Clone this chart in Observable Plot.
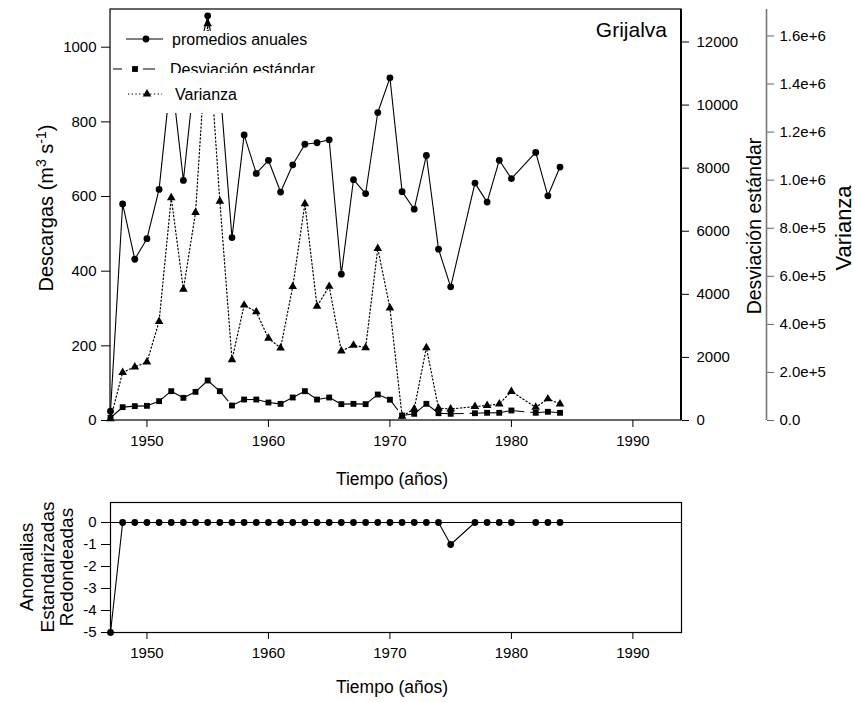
<!DOCTYPE html>
<html>
<head>
<meta charset="utf-8">
<script src="https://cdn.jsdelivr.net/npm/d3@7"></script>
<script src="https://cdn.jsdelivr.net/npm/@observablehq/plot@0.6"></script>
<style>
  body { margin: 0; background: #fff; }
  #chart { width: 855px; font-family: "Liberation Sans", Arial, sans-serif; }
  #chart svg { display: block; }
</style>
</head>
<body>
<div id="chart"></div>
<script>
// Río Grijalva: annual mean discharge, standard deviation and variance, 1947–1984
const years = [1947, 1948, 1949, 1950, 1951, 1952, 1953, 1954, 1955, 1956,
               1957, 1958, 1959, 1960, 1961, 1962, 1963, 1964, 1965, 1966,
               1967, 1968, 1969, 1970, 1971, 1972, 1973, 1974, 1975,
               1977, 1978, 1979, 1980, 1982, 1983, 1984];
const promedios = [25, 580, 432, 487, 619, 930, 643, 950, 1084, 900,
                   490, 765, 662, 697, 612, 685, 740, 744, 752, 392,
                   645, 608, 825, 918, 613, 566, 710, 459, 358,
                   636, 585, 697, 648, 718, 602, 679];
const desviacion = [85, 423, 455, 465, 613, 930, 718, 908, 1268, 930,
                    475, 665, 665, 570, 528, 729, 930, 665, 729, 518,
                    528, 518, 824, 660, 158, 212, 529, 231, 212,
                    231, 244, 244, 317, 244, 276, 244];
const varianza = [7000, 200000, 223000, 243000, 412000, 927000, 546000, 865000, 1651000, 912000,
                  253000, 480000, 452000, 342000, 302000, 557000, 902000, 475000, 558000, 289000,
                  313000, 303000, 716000, 468000, 18000, 48000, 303000, 51000, 48000,
                  58000, 62000, 69000, 121000, 55000, 90000, 69000];
// rounded standardized anomalies of the annual means
const anomalias = [-5, 0, 0, 0, 0, 0, 0, 0, 0, 0,
                   0, 0, 0, 0, 0, 0, 0, 0, 0, 0,
                   0, 0, 0, 0, 0, 0, 0, 0, -1,
                   0, 0, 0, 0, 0, 0, 0];

const xTicks = [1950, 1960, 1970, 1980, 1990];
const yTicks = [0, 200, 400, 600, 800, 1000];
const sdTicks = [0, 2000, 4000, 6000, 8000, 10000, 12000];
const varTicks = [0, 2e5, 4e5, 6e5, 8e5, 1.0e6, 1.2e6, 1.4e6, 1.6e6];
const anomTicks = [0, -1, -2, -3, -4, -5];

const xDomain = [1947, 1994];
const yDomain = [0, 1101];
const sdDomain = [0, 13030];
const varDomain = [0, 1.71e6];
const anomDomain = [-5, 0.91];

const legendLabels = ["promedios anuales", "Desviación estándar", "Varianza"];
const titulo = "Grijalva";
const xLabel = "Tiempo (años)";

// the two secondary axes share the primary y scale through linear rescaling
const sdToY = d3.scaleLinear(sdDomain, yDomain);
const varToY = d3.scaleLinear(varDomain, yDomain);

const rows = years.map((year, i) => ({
  year,
  prom: promedios[i],
  sd: sdToY(desviacion[i]),
  vr: varToY(varianza[i])
}));
// each std-dev segment gets its own dash pattern start
const sdSegs = d3.pairs(rows).map(([a, b]) => ({x1: a.year, y1: a.sd, x2: b.year, y2: b.sd}));
const anomRows = years.map((year, i) => ({year, a: anomalias[i]}));

const font = '"Liberation Sans", Arial, sans-serif';
const baseStyle = {fontFamily: font, fontSize: "15px", color: "#000", background: "#fff", overflow: "visible"};
const R_CIRCLE = 3.4, R_SQUARE = 3.3, R_TRI = 3.2;

const fmtVar = v => {
  const x = Math.round(varToY.invert(v) / 1e4) * 1e4;
  return x === 0 ? "0.0" : d3.format(".1e")(x);
};

const topPlot = Plot.plot({
  width: 855, height: 495,
  marginTop: 9, marginBottom: 75, marginLeft: 110, marginRight: 174,
  x: {domain: xDomain},
  y: {domain: yDomain},
  style: baseStyle,
  marks: [
    Plot.line(rows, {x: "year", y: "vr", stroke: "#000", strokeWidth: 1.2, strokeDasharray: "1.3,2.4"}),
    Plot.link(sdSegs, {x1: "x1", y1: "y1", x2: "x2", y2: "y2", stroke: "#000", strokeWidth: 1.1, strokeDasharray: "13,6"}),
    Plot.line(rows, {x: "year", y: "prom", stroke: "#000", strokeWidth: 1.1}),
    Plot.dot(rows, {x: "year", y: "vr", symbol: "triangle", r: R_TRI, fill: "#000"}),
    Plot.dot(rows, {x: "year", y: "sd", symbol: "square", r: R_SQUARE, fill: "#000"}),
    Plot.dot(rows, {x: "year", y: "prom", symbol: "circle", r: R_CIRCLE, fill: "#000"}),
    Plot.axisX({ticks: xTicks, tickSize: 7, tickPadding: 8, label: null, tickFormat: d => String(d)}),
    Plot.axisY({ticks: yTicks, tickSize: 9, tickPadding: 5, label: null, tickFormat: d => String(d)}),
    Plot.axisY({ticks: sdTicks.map(sdToY), anchor: "right", tickSize: 7, tickPadding: 8, label: null,
                tickFormat: v => String(Math.round(sdToY.invert(v)))}),
    Plot.axisY({ticks: varTicks.map(varToY), anchor: "right", dx: 85, tickSize: 7, tickPadding: 6, label: null,
                stroke: "#666", tickFormat: fmtVar}),
    Plot.ruleX([xDomain[1]], {dx: 85, stroke: "#777", strokeWidth: 1.6})
  ]
});

const svgTop = d3.select(topPlot);

// legend rows, each drawn over its own white box
const legendRows = [
  {label: legendLabels[0], y: 39, top: 31, x0: 126, x1: 163, sx: 146, tx: 172, sym: d3.symbolCircle, r: R_CIRCLE, dash: null},
  {label: legendLabels[1], y: 69, top: 52, x0: 113, x1: 155, sx: 135, tx: 170, sym: d3.symbolSquare, r: R_SQUARE, dash: "9,21,12"},
  {label: legendLabels[2], y: 94, top: 73, x0: 128, x1: 162, sx: 147, tx: 175, sym: d3.symbolTriangle, r: R_TRI, dash: "1.3,2.4"}
];
const lg = svgTop.append("g").attr("class", "legend").attr("text-anchor", "start");
legendRows.forEach(d => {
  lg.append("rect")
    .attr("x", 111).attr("y", d.top).attr("width", 212).attr("height", 40)
    .style("fill", "#ffffff").style("stroke", "none");
  const ln = lg.append("line")
    .attr("x1", d.x0).attr("x2", d.x1).attr("y1", d.y).attr("y2", d.y)
    .style("stroke", "#000").style("stroke-width", "1.1px").style("fill", "none");
  if (d.dash) ln.style("stroke-dasharray", d.dash);
  lg.append("path")
    .attr("d", d3.symbol(d.sym, Math.PI * d.r * d.r)())
    .attr("transform", `translate(${d.sx},${d.y})`)
    .style("fill", "#000").style("stroke", "none");
  lg.append("text")
    .attr("x", d.tx).attr("y", d.y).attr("dy", "0.36em")
    .attr("text-anchor", "start")
    .style("font-size", "16px").style("fill", "#000").text(d.label);
});

// plot frame, with a heavier right side that carries the std-dev axis
const fr = svgTop.append("g");
fr.append("rect").attr("x", 110).attr("y", 9).attr("width", 571).attr("height", 411)
  .style("fill", "none").style("stroke", "#000").style("stroke-width", "1.2px");
fr.append("line").attr("x1", 681).attr("x2", 681).attr("y1", 9).attr("y2", 420)
  .style("stroke", "#000").style("stroke-width", "2px");

svgTop.append("text").attr("x", 667).attr("y", 37).attr("text-anchor", "end")
  .style("font-size", "21px").style("fill", "#000").text(titulo);

const yl = svgTop.append("text").attr("transform", "translate(53,208) rotate(-90)")
  .attr("text-anchor", "middle").style("font-size", "20px").style("fill", "#000");
yl.append("tspan").text("Descargas (m");
yl.append("tspan").attr("dy", -7).style("font-size", "14px").text("3");
yl.append("tspan").attr("dy", 7).text(" s");
yl.append("tspan").attr("dy", -7).style("font-size", "14px").text("-1");
yl.append("tspan").attr("dy", 7).text(")");

svgTop.append("text").attr("transform", "translate(761,226) rotate(-90)")
  .attr("text-anchor", "middle").style("font-size", "19.5px").style("fill", "#000").text("Desviación estándar");
svgTop.append("text").attr("transform", "translate(851,228) rotate(-90)")
  .attr("text-anchor", "middle").style("font-size", "22px").style("fill", "#000").text("Varianza");
svgTop.append("text").attr("x", 392).attr("y", 485).attr("text-anchor", "middle")
  .style("font-size", "17.5px").style("fill", "#000").text(xLabel);

const bottomPlot = Plot.plot({
  width: 855, height: 207,
  marginTop: 7, marginBottom: 70, marginLeft: 110, marginRight: 174,
  x: {domain: xDomain},
  y: {domain: anomDomain},
  style: baseStyle,
  marks: [
    Plot.ruleY([0], {stroke: "#000", strokeWidth: 1.1}),
    Plot.line(anomRows, {x: "year", y: "a", stroke: "#000", strokeWidth: 1.1}),
    Plot.dot(anomRows, {x: "year", y: "a", r: R_CIRCLE, fill: "#000"}),
    Plot.frame({stroke: "#000", strokeWidth: 1.2}),
    Plot.axisX({ticks: xTicks, tickSize: 7, tickPadding: 8, label: null, tickFormat: d => String(d)}),
    Plot.axisY({ticks: anomTicks, tickSize: 9, tickPadding: 5, label: null, tickFormat: d => String(d)})
  ]
});

const svgBot = d3.select(bottomPlot);
[["Anomalias", 33], ["Estandarizadas", 53.5], ["Redondeadas", 73]].forEach(([t, x]) => {
  svgBot.append("text").attr("transform", `translate(${x},72) rotate(-90)`)
    .attr("text-anchor", "middle").style("font-size", "19px").style("fill", "#000").text(t);
});
svgBot.append("text").attr("x", 392).attr("y", 198).attr("text-anchor", "middle")
  .style("font-size", "17.5px").style("fill", "#000").text(xLabel);

const chart = document.getElementById("chart");
chart.append(topPlot, bottomPlot);
</script>
</body>
</html>
